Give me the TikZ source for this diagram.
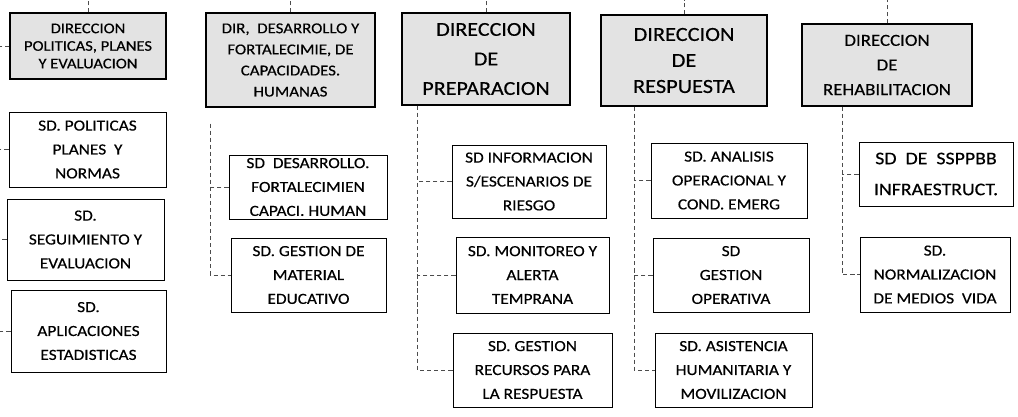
\documentclass[tikz,border=0pt]{standalone}
\usepackage{fontspec}
\setmainfont{Carlito}[FakeStretch=1.12, FakeBold=0.4]
\usetikzlibrary{positioning}
\usetikzlibrary{calc}

\def\px{0.025cm}

\tikzset{
  topbox/.style={draw=black, fill=gray!22, line width=0.8pt, align=center, inner sep=0pt},
  subbox/.style={draw=black, fill=white, line width=0.7pt, align=center, inner sep=0pt,
                 font=\fontsize{11}{17}\selectfont},
  boxsize/.style 2 args={minimum width=#1*\px, minimum height=#2*\px},
  link/.style={draw=black!70, densely dashed, line width=0.4pt}
}

\begin{document}
\begin{tikzpicture}[x=\px, y=-\px]

\useasboundingbox (0,0) rectangle (1018,416);

%====================================================
% Top row: direcciones
%====================================================
\node[topbox, boxsize={156}{66}, font=\fontsize{10.5}{12.5}\selectfont]
  (polit) at (88,46) {DIRECCION\\POLITICAS, PLANES\\Y EVALUACION};
\node[topbox, boxsize={169}{94}, font=\fontsize{10.7}{15}\selectfont]
  (desar) at (290.5,60) {DIR, \ DESARROLLO Y\\FORTALECIMIE, DE\\CAPACIDADES.\\HUMANAS};
\node[topbox, boxsize={168}{92}, font=\fontsize{14}{21}\selectfont]
  (prep) at (486,59) {DIRECCION\\DE\\PREPARACION};
\node[topbox, boxsize={166}{91}, font=\fontsize{14.2}{18.5}\selectfont]
  (resp) at (684,60.5) {DIRECCION\\DE\\RESPUESTA};
\node[topbox, boxsize={170}{82}, font=\fontsize{12}{17.5}\selectfont]
  (rehab) at (887,65) {DIRECCION\\DE\\REHABILITACION};

% lines going up
\foreach \d in {polit,desar,prep,resp,rehab}
  \coordinate (\d up) at (\d.north |- 0,0);
\foreach \d in {polit,desar,prep,resp,rehab}
  \draw[link] (\d.north) -- (\d up);

\coordinate (politL) at (0,46);
\draw[link] (polit.west) -- (politL);

%====================================================
% Column A
%====================================================
\node[subbox, boxsize={157}{75}] (aPol) at (87.5,149.5)
  {SD. POLITICAS\\PLANES \ Y\\NORMAS};
\node[subbox, boxsize={157}{81}] (aSeg) at (85.5,239.5)
  {SD.\\SEGUIMIENTO Y\\EVALUACION};
\node[subbox, boxsize={155}{82}] (aApl) at (88.5,331)
  {SD.\\APLICACIONES\\ESTADISTICAS};

\foreach \s in {aPol,aSeg,aApl}{
  \coordinate (\s L) at (0,0 |- \s.west);
  \draw[link] (\s.west) -- (\s L);
}

%====================================================
% Column B
%====================================================
\node[subbox, boxsize={158}{64}] (bDes) at (308,187)
  {SD \ DESARROLLO.\\FORTALECIMIEN\\CAPACI. HUMAN};
\node[subbox, boxsize={155}{74}] (bMat) at (308.5,275)
  {SD. GESTION DE\\MATERIAL\\EDUCATIVO};

\coordinate (bTop) at ($(desar.south west)+(5,16)$);
\draw[link] (bTop) |- (bMat.west);
\draw[link] (bDes.west) -- (bDes.west -| bTop);

%====================================================
% Column C
%====================================================
\node[subbox, boxsize={154}{73}] (cInf) at (529,181.5)
  {SD INFORMACION\\S/ESCENARIOS DE\\RIESGO};
\node[subbox, boxsize={153}{76}] (cMon) at (532.5,275)
  {SD. MONITOREO Y\\ALERTA\\TEMPRANA};
\node[subbox, boxsize={159}{74}] (cRec) at (532.5,370)
  {SD. GESTION\\RECURSOS PARA\\LA RESPUESTA};

\coordinate (cTop) at ($(prep.south west)+(16,0)$);
\draw[link] (cTop) |- (cRec.west);
\foreach \s in {cInf,cMon}
  \draw[link] (\s.west) -- (\s.west -| cTop);

%====================================================
% Column D
%====================================================
\node[subbox, boxsize={156}{75}] (dAna) at (729,180.5)
  {SD. ANALISIS\\OPERACIONAL Y\\COND. EMERG};
\node[subbox, boxsize={156}{74}] (dOpe) at (731,275)
  {SD\\GESTION\\OPERATIVA};
\node[subbox, boxsize={157}{74}] (dHum) at (733.5,370)
  {SD. ASISTENCIA\\HUMANITARIA Y\\MOVILIZACION};

\coordinate (dTop) at ($(resp.south west)+(34,0)$);
\draw[link] (dTop) |- (dHum.west);
\foreach \s in {dAna,dOpe}
  \draw[link] (\s.west) -- (\s.west -| dTop);

%====================================================
% Column E
%====================================================
\node[subbox, boxsize={154}{64}, font=\fontsize{12.6}{22}\selectfont]
  (eInf) at (936,174) {SD \ DE \ SSPPBB\\INFRAESTRUCT.};
\node[subbox, boxsize={150}{75}] (eNor) at (935,274.5)
  {SD.\\NORMALIZACION\\DE MEDIOS \ VIDA};

\coordinate (eTop) at ($(rehab.south west)+(41,0)$);
\draw[link] (eTop) |- (eNor.west);
\draw[link] (eInf.west) -- (eInf.west -| eTop);

\end{tikzpicture}
\end{document}
